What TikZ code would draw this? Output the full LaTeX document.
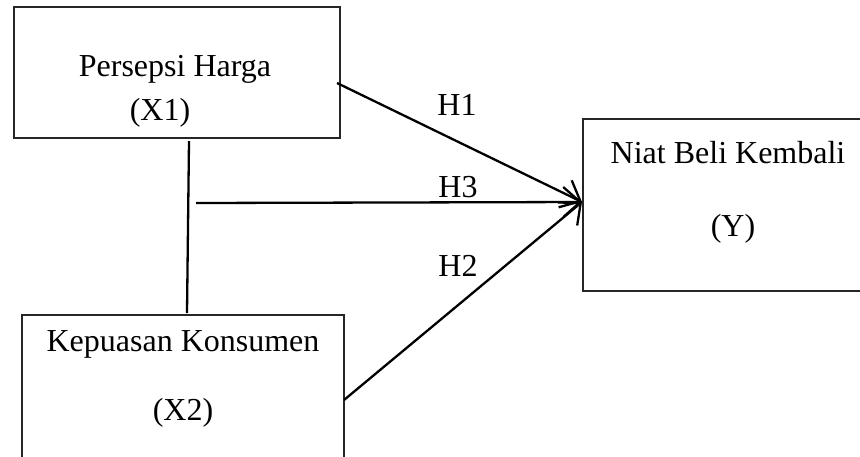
\documentclass[tikz,border=0pt]{standalone}
\usepackage{fontspec}
\setmainfont{Liberation Serif}
\usetikzlibrary{arrows.meta}
\begin{document}
\begin{tikzpicture}[x=1pt,y=-1pt,
  box/.style={draw=black!85,line width=1.4pt,rectangle,inner sep=0pt},
  lbl/.style={font=\fontsize{32}{38}\selectfont,inner sep=0pt,anchor=base},
  conn/.style={line width=2.3pt},
  arr/.style={conn,-{Straight Barb[length=17pt,width=30pt,line width=2.3pt]}}]
\useasboundingbox (0,0) rectangle (860,456);
\clip (0,0) rectangle (860,456);
% boxes
\node[box,minimum width=326pt,minimum height=131pt] (x1) at (177,72.5) {};
\node[box,minimum width=322pt,minimum height=170pt] (x2) at (183,400) {};
\node[box,minimum width=300pt,minimum height=172pt] (y) at (733,205) {};
% texts
\node[lbl] (t1) at (175,76) {Persepsi Harga};
\node[lbl] (t2) at (160,120) {(X1)};
\node[lbl] (t3) at (183,351) {Kepuasan Konsumen};
\node[lbl] (t4) at (183,420) {(X2)};
\node[lbl] (t5) at (728,163) {Niat Beli Kembali};
\node[lbl] (t6) at (733,236) {(Y)};
\node[lbl] (h1) at (457,115) {H1};
\node[lbl] (h3) at (458,197) {H3};
\node[lbl] (h2) at (458,276) {H2};
% coordinates
\coordinate (tip) at (582,202);
\coordinate (s1) at (337,83);
\coordinate (s3) at (196,203);
\coordinate (s2) at (344,400);
\coordinate (va) at (189,141);
\coordinate (vb) at (187,313);
% connectors
\draw[conn] (va) -- (vb);
\draw[arr] (s1) -- (tip);
\draw[arr] (s3) -- (tip);
\draw[arr] (s2) -- (tip);
\end{tikzpicture}
\end{document}
